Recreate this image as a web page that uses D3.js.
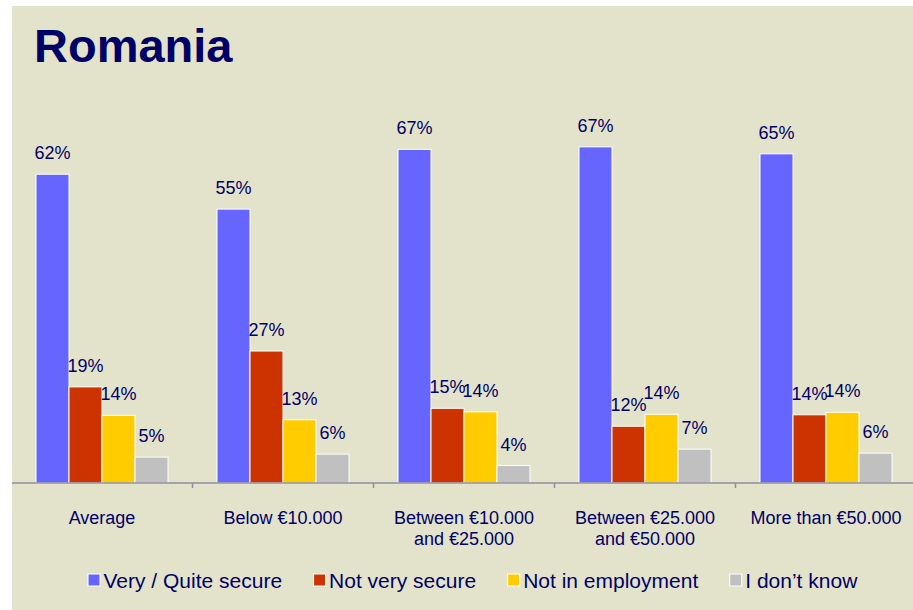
<!DOCTYPE html>
<html>
<head>
<meta charset="utf-8">
<script src="https://cdn.jsdelivr.net/npm/d3@7"></script>
<style>
  body { margin: 0; background: #fff; }
  text { font-family: Arial, "Liberation Sans", sans-serif; }
</style>
</head>
<body>
<div id="chart"></div>
<script>
// data (bar heights estimated, labels as printed)
const categories = [
  ["Average"],
  ["Below €10.000"],
  ["Between €10.000", "and €25.000"],
  ["Between €25.000", "and €50.000"],
  ["More than €50.000"]
];
const seriesNames = ["Very / Quite secure", "Not very secure", "Not in employment", "I don’t know"];
const secure      = [62, 55, 67, 67.5, 66.1];
const notSecure   = [19.3, 26.5, 15, 11.4, 13.7];
const notEmployed = [13.6, 12.7, 14.3, 13.8, 14.2];
const dontKnow    = [5.2, 5.8, 3.5, 6.8, 6];
const secureLbl      = ["62%", "55%", "67%", "67%", "65%"];
const notSecureLbl   = ["19%", "27%", "15%", "12%", "14%"];
const notEmployedLbl = ["14%", "13%", "14%", "14%", "14%"];
const dontKnowLbl    = ["5%", "6%", "4%", "7%", "6%"];
const colors = ["#6666FF", "#CC3300", "#FFCC00", "#C0C0C0"];

const allSeries = [secure, notSecure, notEmployed, dontKnow];
const allLabels = [secureLbl, notSecureLbl, notEmployedLbl, dontKnowLbl];
const rows = categories.map((c, i) => ({
  cat: i,
  lines: c,
  values: allSeries.map((s, k) => ({ key: seriesNames[k], k: k, v: s[i], lbl: allLabels[k][i] }))
}));

const W = 913, H = 610;
const textColor = "#000066";

const svg = d3.select("#chart").append("svg")
  .attr("width", W)
  .attr("height", H);

// background panel
svg.append("rect")
  .attr("x", 12).attr("y", 6)
  .attr("width", W - 12).attr("height", H - 6)
  .attr("fill", "#E3E3CC");

// title
svg.append("text")
  .attr("x", 34).attr("y", 62)
  .attr("fill", textColor)
  .style("font-size", "47px")
  .style("font-weight", "bold")
  .text("Romania");

const baseY = 483;
const x0 = d3.scaleBand()
  .domain(rows.map(d => d.cat))
  .range([11.5, 916.5]);

const x1 = d3.scaleBand()
  .domain(d3.range(seriesNames.length))
  .range([24.5, x0.bandwidth() - 24.5]);

const y = d3.scaleLinear()
  .domain([0, 100])
  .range([baseY, baseY - 498]);

const groups = svg.append("g")
  .selectAll("g")
  .data(rows)
  .join("g")
  .attr("transform", d => `translate(${x0(d.cat)},0)`);

groups.selectAll("rect")
  .data(d => d.values)
  .join("rect")
  .attr("x", d => x1(d.k))
  .attr("y", d => y(d.v))
  .attr("width", x1.bandwidth())
  .attr("height", d => baseY - y(d.v))
  .attr("fill", d => colors[d.k])
  .attr("stroke", "#fff")
  .attr("stroke-width", 1);

groups.selectAll("text.val")
  .data(d => d.values)
  .join("text")
  .attr("class", "val")
  .attr("x", d => x1(d.k) + x1.bandwidth() / 2)
  .attr("y", d => y(d.v) - 15)
  .attr("text-anchor", "middle")
  .attr("fill", textColor)
  .style("font-size", "18px")
  .text(d => d.lbl);

// axis
const axis = svg.append("g")
  .attr("transform", `translate(0,${baseY})`)
  .call(d3.axisBottom(x0)
    .tickSizeOuter(0)
    .tickSize(0)
    .tickFormat(""));
axis.select(".domain")
  .attr("d", `M12,0H${W}`)
  .attr("stroke", "#8E8E9E")
  .attr("stroke-width", 1.5);
axis.selectAll(".tick").remove();

// separators between the groups
svg.append("g")
  .selectAll("line")
  .data(rows.slice(1))
  .join("line")
  .attr("x1", d => x0(d.cat))
  .attr("x2", d => x0(d.cat))
  .attr("y1", baseY)
  .attr("y2", baseY + 5)
  .attr("stroke", "#8E8E9E")
  .attr("stroke-width", 1.5);

// category labels
const catLabels = svg.append("g")
  .selectAll("text")
  .data(rows)
  .join("text")
  .attr("x", d => x0(d.cat) + x0.bandwidth() / 2)
  .attr("y", 524)
  .attr("text-anchor", "middle")
  .attr("fill", textColor)
  .style("font-size", "18px");
catLabels.selectAll("tspan")
  .data(d => d.lines.map(l => ({ l, x: x0(d.cat) + x0.bandwidth() / 2 })))
  .join("tspan")
  .attr("x", d => d.x)
  .attr("dy", (d, i) => i === 0 ? 0 : 21)
  .text(d => d.l);

// legend
const legend = svg.append("g");
let lx = 88;
seriesNames.forEach((name, k) => {
  legend.append("rect")
    .attr("x", lx).attr("y", 574)
    .attr("width", 12).attr("height", 12)
    .attr("fill", colors[k])
    .attr("stroke", "#fff")
    .attr("stroke-width", 1);
  const t = legend.append("text")
    .attr("x", lx + 15.5).attr("y", 588)
    .attr("fill", textColor)
    .style("font-size", "21px")
    .text(name);
  lx += 15.5 + t.node().getComputedTextLength() + 31.5;
});
</script>
</body>
</html>
